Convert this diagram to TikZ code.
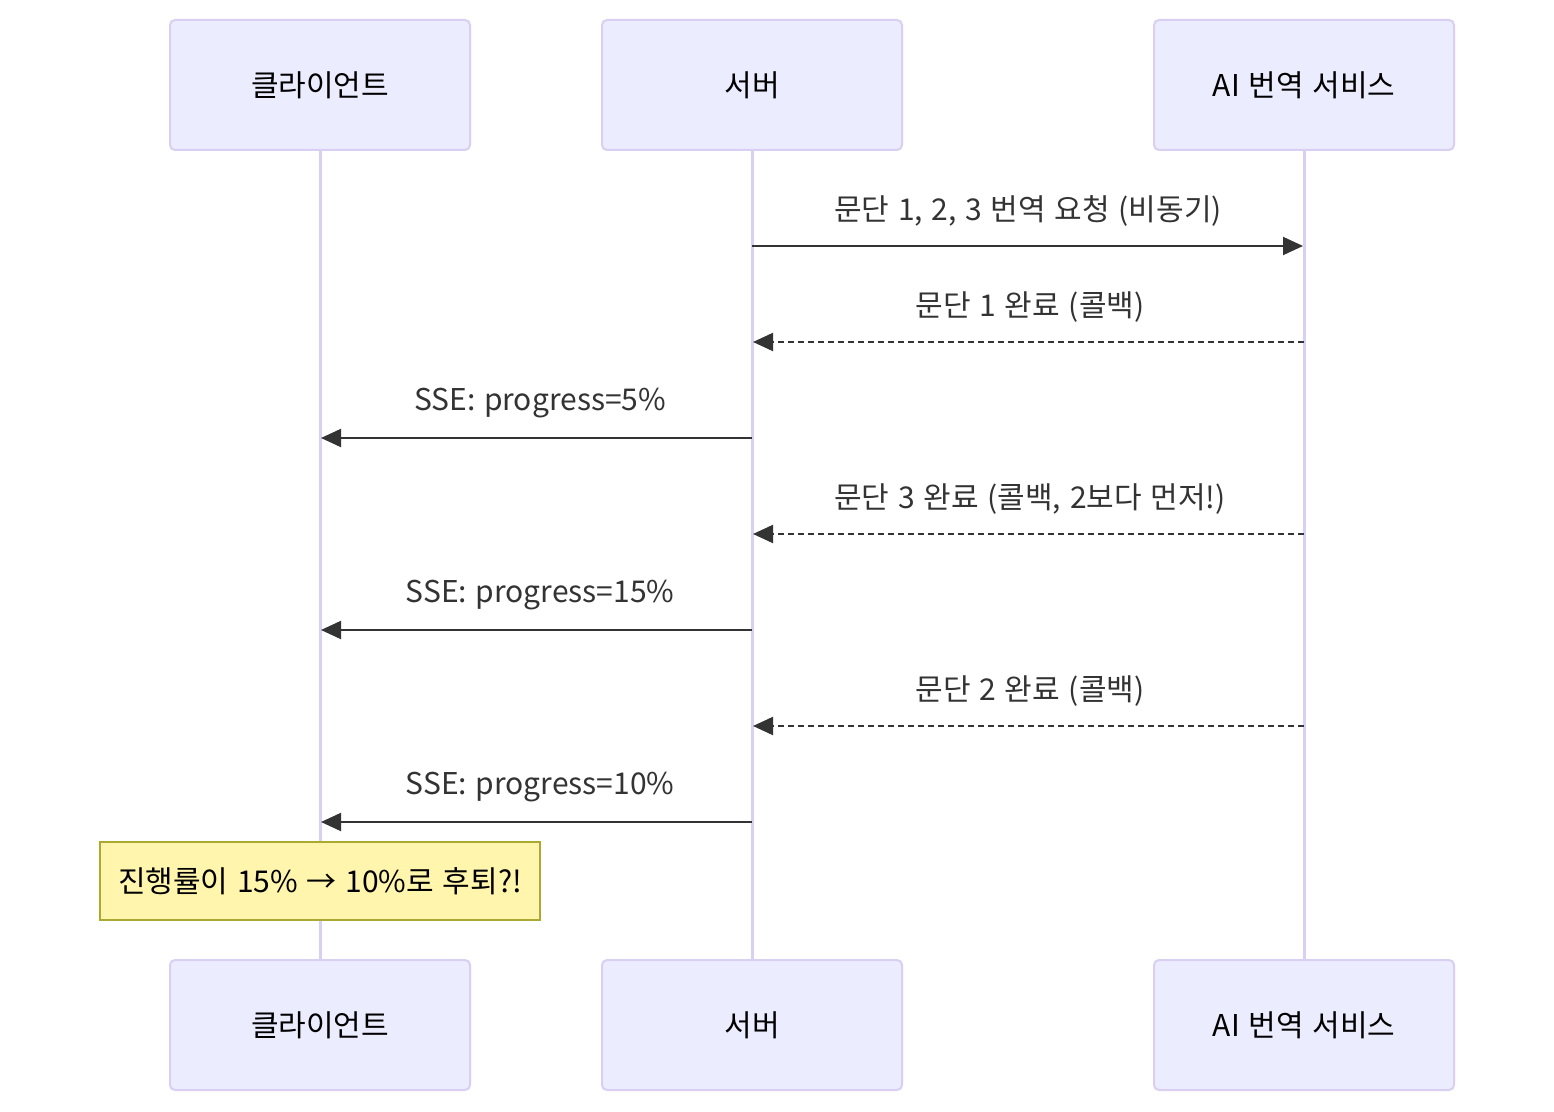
\documentclass[tikz,border=0pt]{standalone}
\usepackage{fontspec}
\setmainfont{Noto Sans CJK KR}[WordSpace={1.3}]
\usetikzlibrary{arrows.meta}
\definecolor{actfill}{HTML}{ECECFF}
\definecolor{actline}{HTML}{D9CFF3}
\definecolor{msgline}{HTML}{333333}
\definecolor{notefill}{HTML}{FFF5AD}
\definecolor{noteline}{HTML}{AAAA33}
\tikzset{
  actor/.style={draw=actline, fill=actfill, line width=1pt, rounded corners=2.5pt,
    minimum width=150pt, minimum height=65pt, inner sep=0pt,
    font=\fontsize{15pt}{17pt}\selectfont, text=black},
  lifeline/.style={draw=actline, line width=1.5pt},
  msg/.style={draw=msgline, line width=1pt, -{Triangle[length=10pt,width=9pt]}, shorten >=0.5pt},
  reply/.style={msg, dash pattern=on 3pt off 2pt},
  msglabel/.style={font=\fontsize{15pt}{17pt}\selectfont, text=msgline, inner sep=0pt},
  notebox/.style={draw=noteline, fill=notefill, line width=0.7pt,
    minimum width=220pt, minimum height=39pt, inner sep=0pt,
    font=\fontsize{15pt}{17pt}\selectfont, text=black}
}
\begin{document}
\begin{tikzpicture}[x=0.5pt,y=-0.5pt]
\useasboundingbox (0,0) rectangle (1554,1112);
\fill[white] (0,0) rectangle (1554,1112);
% actors
\node[actor] (c1) at (320,85) {클라이언트};
\node[actor] (s1) at (752,85) {서버};
\node[actor] (a1) at (1304,85) {AI 번역 서비스};
\node[actor] (c2) at (320,1025) {클라이언트};
\node[actor] (s2) at (752,1025) {서버};
\node[actor] (a2) at (1304,1025) {AI 번역 서비스};
% lifelines
\draw[lifeline] (c1.south) -- (c2.north);
\draw[lifeline] (s1.south) -- (s2.north);
\draw[lifeline] (a1.south) -- (a2.north);
% coordinates on lifelines
\foreach \i/\y in {1/246,2/342,3/438,4/534,5/630,6/726,7/822}{
  \coordinate (mc\i) at (320,\y);
  \coordinate (ms\i) at (752,\y);
  \coordinate (ma\i) at (1304,\y);
}
% messages
\node[msglabel] (l1) at (1028,211) {문단 1, 2, 3 번역 요청 (비동기)};
\draw[msg] (ms1) -- (ma1);
\node[msglabel] (l2) at (1030,307) {문단 1 완료 (콜백)};
\draw[reply] (ma2) -- (ms2);
\node[msglabel] (l3) at (540,403) {SSE: progress=5\%};
\draw[msg] (ms3) -- (mc3);
\node[msglabel] (l4) at (1030,499) {문단 3 완료 (콜백, 2보다 먼저!)};
\draw[reply] (ma4) -- (ms4);
\node[msglabel] (l5) at (540,595) {SSE: progress=15\%};
\draw[msg] (ms5) -- (mc5);
\node[msglabel] (l6) at (1030,691) {문단 2 완료 (콜백)};
\draw[reply] (ma6) -- (ms6);
\node[msglabel] (l7) at (540,787) {SSE: progress=10\%};
\draw[msg] (ms7) -- (mc7);
% note
\node[notebox] (n1) at (320,881) {진행률이 15\% → 10\%로 후퇴?!};
\end{tikzpicture}
\end{document}
